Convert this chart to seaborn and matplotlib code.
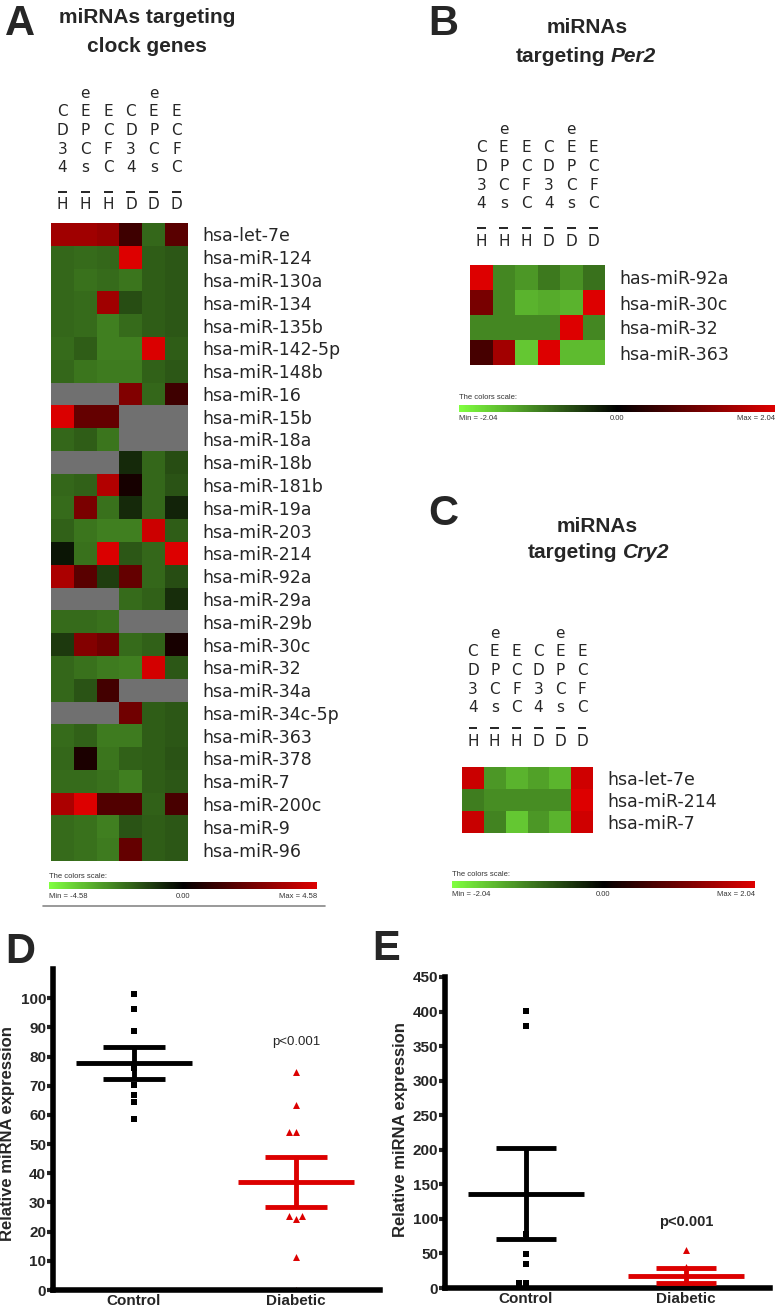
import numpy as np
import pandas as pd
import matplotlib
matplotlib.use("Agg")
import matplotlib.pyplot as plt
import matplotlib.transforms as mtransforms
import seaborn as sns
from matplotlib.colors import LinearSegmentedColormap, Normalize
from matplotlib.cm import ScalarMappable

na = np.nan

# ---- heatmap data (log ratio, grey = not detected) ----
header_top = ["CD34", "eEPCs", "ECFC", "CD34", "eEPCs", "ECFC"]
header_grp = ["H", "H", "H", "D", "D", "D"]
samples = ["CD34-H", "eEPCs-H", "ECFC-H", "CD34-D", "eEPCs-D", "ECFC-D"]

clock_mirnas = ["hsa-let-7e", "hsa-miR-124", "hsa-miR-130a", "hsa-miR-134", "hsa-miR-135b",
                "hsa-miR-142-5p", "hsa-miR-148b", "hsa-miR-16", "hsa-miR-15b", "hsa-miR-18a",
                "hsa-miR-18b", "hsa-miR-181b", "hsa-miR-19a", "hsa-miR-203", "hsa-miR-214",
                "hsa-miR-92a", "hsa-miR-29a", "hsa-miR-29b", "hsa-miR-30c", "hsa-miR-32",
                "hsa-miR-34a", "hsa-miR-34c-5p", "hsa-miR-363", "hsa-miR-378", "hsa-miR-7",
                "hsa-miR-200c", "hsa-miR-9", "hsa-miR-96"]
clock_vals = [
    [3.30, 3.30, 3.11, 1.28, -1.83, 1.83],
    [-1.83, -1.92, -1.83, 4.58, -1.65, -1.56],
    [-1.83, -2.02, -1.92, -2.11, -1.65, -1.56],
    [-1.83, -1.92, 3.30, -1.37, -1.65, -1.56],
    [-1.83, -1.92, -2.29, -1.92, -1.65, -1.56],
    [-1.92, -1.65, -2.29, -2.29, 4.49, -1.65],
    [-1.83, -2.11, -2.20, -2.20, -1.74, -1.56],
    [na, na, na, 2.66, -1.83, 1.28],
    [4.49, 2.06, 2.06, na, na, na],
    [-1.83, -1.65, -2.11, na, na, na],
    [na, na, na, -0.73, -1.83, -1.37],
    [-1.83, -1.74, 3.66, 0.46, -1.83, -1.47],
    [-1.92, 2.52, -2.02, -0.73, -1.83, -0.64],
    [-1.74, -2.11, -2.29, -2.29, 4.21, -1.65],
    [-0.37, -2.02, 4.49, -1.56, -1.83, 4.58],
    [3.53, 1.83, -1.10, 2.06, -1.83, -1.37],
    [na, na, na, -1.92, -1.74, -0.82],
    [-1.92, -1.92, -2.02, na, na, na],
    [-1.01, 2.70, 2.29, -1.92, -1.74, 0.50],
    [-1.83, -2.02, -2.20, -2.29, 4.35, -1.56],
    [-1.83, -1.47, 1.37, na, na, na],
    [na, na, na, 2.29, -1.65, -1.56],
    [-1.92, -1.74, -2.20, -2.20, -1.65, -1.56],
    [-1.83, 0.55, -2.11, -1.74, -1.65, -1.47],
    [-1.92, -1.92, -2.02, -2.29, -1.65, -1.56],
    [3.53, 4.58, 1.65, 1.65, -1.74, 1.47],
    [-1.92, -2.02, -2.29, -1.47, -1.65, -1.56],
    [-1.92, -2.02, -2.20, 2.06, -1.65, -1.56],
]
clock_lim = 4.58

per2_mirnas = ["has-miR-92a", "hsa-miR-30c", "hsa-miR-32", "hsa-miR-363"]
per2_vals = [
    [2.04, -1.08, -1.20, -0.96, -1.16, -0.90],
    [1.10, -1.08, -1.43, -1.37, -1.43, 2.04],
    [-1.08, -1.08, -1.08, -1.08, 2.04, -1.08],
    [0.65, 1.49, -1.59, 2.04, -1.49, -1.49],
]
per2_lim = 2.04

cry2_mirnas = ["hsa-let-7e", "hsa-miR-214", "hsa-miR-7"]
cry2_vals = [
    [1.86, -1.20, -1.43, -1.29, -1.45, 1.90],
    [-1.00, -1.12, -1.12, -1.12, -1.12, 2.04],
    [1.84, -1.04, -1.59, -1.20, -1.43, 1.90],
]
cry2_lim = 2.04

# ---- qPCR data ----
groups = ["Control", "Diabetic"]
control_d = [101.4, 96.2, 88.7, 76.0, 70.2, 66.9, 64.3, 58.5]
diabetic_d = [74.7, 63.5, 54.1, 54.1, 25.5, 24.5, 25.5, 11.2, 0.0]
control_e = [400.2, 379.1, 77.5, 49.9, 34.6, 7.0, 7.0]
diabetic_e = [55.0, 30.0, 4.0, 0.5, 0.5]

# ---- style ----
sns.set_style("white")
plt.rcParams["font.family"] = ["Liberation Sans", "DejaVu Sans"]

W, H = 777, 1314
RED = "#dc0000"
NA_GREY = "#707070"
PIX = "DejaVu Sans"
cmap = LinearSegmentedColormap.from_list("grn_blk_red", ["#80ff40", "#000000", "#dd0000"])

fig = plt.figure(figsize=(W / 100, H / 100), dpi=100)


def px_axes(x0, y0, x1, y1):
    return fig.add_axes([x0 / W, 1 - y1 / H, (x1 - x0) / W, (y1 - y0) / H])


def ftext(x, y, s, **kw):
    return fig.text(x / W, 1 - y / H, s, **kw)


def draw_heatmap(rect, names, vals, lim, base, grp_off, bar_off, step=18.5):
    ax = px_axes(*rect)
    df = pd.DataFrame(vals, index=names, columns=samples)
    sns.heatmap(df, ax=ax, cmap=cmap, vmin=-lim, vmax=lim, cbar=False,
                xticklabels=False, yticklabels=True)
    ax.set_facecolor(NA_GREY)
    ax.yaxis.tick_right()
    ax.tick_params(axis="y", length=0, pad=10, labelsize=12.5, labelrotation=0)
    for lab in ax.get_yticklabels():
        lab.set_fontfamily(PIX)
    ax.set_xlabel("")
    ax.set_ylabel("")
    bar_tr = mtransforms.offset_copy(ax.transData, fig=fig, y=bar_off, units="dots")
    # stacked column headers, one character per line
    for i, (top, grp) in enumerate(zip(header_top, header_grp)):
        for j, ch in enumerate(top[::-1]):
            ax.annotate(ch, xy=(i + 0.5, 0), xytext=(0, base + j * step),
                        textcoords="offset pixels", ha="center", va="baseline",
                        fontsize=11, family=PIX)
        ax.annotate(grp, xy=(i + 0.5, 0), xytext=(0, grp_off),
                    textcoords="offset pixels", ha="center", va="baseline",
                    fontsize=11, family=PIX)
        ax.plot([i + 0.3, i + 0.7], [0, 0], transform=bar_tr, color="black",
                lw=1.2, clip_on=False, solid_capstyle="butt")
    return ax


def draw_scale(x0, x1, y0, y1, lim, title_y, lab_y):
    cax = px_axes(x0, y0, x1, y1)
    cb = fig.colorbar(ScalarMappable(Normalize(-lim, lim), cmap), cax=cax,
                      orientation="horizontal")
    cb.outline.set_visible(False)
    cax.set_xticks([])
    kw = dict(fontsize=5.5, color="#333333", va="center")
    ftext(x0, title_y, "The colors scale:", ha="left", **kw)
    ftext(x0, lab_y, f"Min = -{lim:.2f}", ha="left", **kw)
    ftext((x0 + x1) / 2, lab_y, "0.00", ha="center", **kw)
    ftext(x1, lab_y, f"Max = {lim:.2f}", ha="right", **kw)


def draw_scatter(rect, ctrl, diab, ylim, yticks, p_y, p_bold, xlim, label_x, label_y):
    ax = px_axes(*rect)
    sns.swarmplot(x=["Control"] * len(ctrl), y=ctrl, order=groups, color="black",
                  marker="s", size=4.5, linewidth=0, ax=ax, zorder=2)
    sns.swarmplot(x=["Diabetic"] * len(diab), y=diab, order=groups, color=RED,
                  marker="^", size=5, linewidth=0, ax=ax, zorder=2)
    for k, (vals, col) in enumerate([(ctrl, "black"), (diab, RED)]):
        v = np.asarray(vals)
        m = v.mean()
        se = v.std(ddof=1) / np.sqrt(len(v))
        ax.hlines(m, k - 0.36, k + 0.36, color=col, lw=3.5, zorder=5)
        ax.hlines([m - se, m + se], k - 0.19, k + 0.19, color=col, lw=3.5, zorder=5)
        ax.vlines(k, m - se, m + se, color=col, lw=3.5, zorder=5)
    ax.set_xlim(*xlim)
    ax.set_ylim(*ylim)
    ax.set_yticks(yticks)
    sns.despine(ax=ax)
    for s in ["left", "bottom"]:
        ax.spines[s].set_linewidth(4)
        ax.spines[s].set_color("black")
    ax.tick_params(axis="y", length=4, width=3, pad=1, direction="out", left=True)
    ax.tick_params(axis="x", length=0, pad=3)
    for lab in ax.get_yticklabels() + ax.get_xticklabels():
        lab.set_fontweight("bold")
        lab.set_fontsize(11)
    ax.set_xlabel("")
    ax.set_ylabel("Relative miRNA expression", fontsize=12, fontweight="bold")
    ax.yaxis.set_label_coords(label_x, label_y)
    ax.text(1, p_y, "p<0.001", ha="center", va="center",
            fontsize=10.5 if p_bold else 9.5, fontweight="bold" if p_bold else "normal")
    return ax


# ---- panel A ----
ftext(5, 35, "A", fontsize=30, fontweight="bold", ha="left", va="baseline")
ftext(147, 23, "miRNAs targeting", fontsize=15, fontweight="bold", ha="center", va="baseline")
ftext(147, 52, "clock genes", fontsize=15, fontweight="bold", ha="center", va="baseline")
draw_heatmap((51, 223, 188, 861), clock_mirnas, clock_vals, clock_lim,
             base=51, grp_off=14, bar_off=31)
draw_scale(49, 317, 882, 889, clock_lim, 876, 896)
fig.add_artist(plt.Line2D([43 / W, 325 / W], [1 - 906 / H, 1 - 906 / H],
                          color="#888888", lw=1.2))

# ---- panel B ----
ftext(428, 35, "B", fontsize=30, fontweight="bold", ha="left", va="baseline")
ftext(587, 33, "miRNAs", fontsize=15, fontweight="bold", ha="center", va="baseline")
ftext(605, 62, "targeting", fontsize=15, fontweight="bold", ha="right", va="baseline")
ftext(611, 62, "Per2", fontsize=15, fontweight="bold", style="italic", ha="left", va="baseline")
draw_heatmap((470, 265, 605, 365), per2_mirnas, per2_vals, per2_lim,
             base=57, grp_off=19, bar_off=37)
draw_scale(459, 775, 405, 412, per2_lim, 398, 418)

# ---- panel C ----
ftext(428, 525, "C", fontsize=30, fontweight="bold", ha="left", va="baseline")
ftext(597, 532, "miRNAs", fontsize=15, fontweight="bold", ha="center", va="baseline")
ftext(617, 558, "targeting", fontsize=15, fontweight="bold", ha="right", va="baseline")
ftext(623, 558, "Cry2", fontsize=15, fontweight="bold", style="italic", ha="left", va="baseline")
draw_heatmap((462, 767, 593, 833), cry2_mirnas, cry2_vals, cry2_lim,
             base=55, grp_off=21, bar_off=39)
draw_scale(452, 755, 881, 888, cry2_lim, 874, 894)

# ---- panel D ----
ftext(5, 963, "D", fontsize=30, fontweight="bold", ha="left", va="baseline")
draw_scatter((53, 969, 380, 1290), control_d, diabetic_d, (0, 110), range(0, 101, 10),
             85, False, (-0.5, 1.52), -0.116, 0.486)

# ---- panel E ----
ftext(372, 960, "E", fontsize=30, fontweight="bold", ha="left", va="baseline")
draw_scatter((445, 977, 770, 1288), control_e, diabetic_e, (0, 450), range(0, 451, 50),
             95, True, (-0.506, 1.525), -0.114, 0.508)

fig.savefig("out.png", dpi=100)
